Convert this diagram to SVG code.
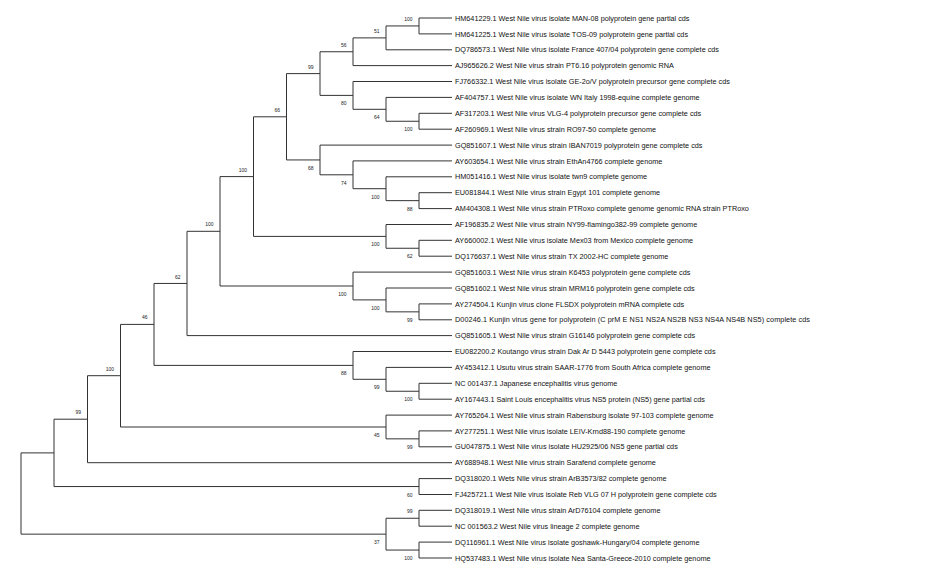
<svg xmlns="http://www.w3.org/2000/svg" width="931" height="578" viewBox="0 0 931 578">
<style>
.e{fill:none;stroke:#333;stroke-width:1}
.t{font-family:"Liberation Sans",Arial,Helvetica,sans-serif;font-size:7.27px;fill:#111}
.b{font-family:"Liberation Sans",Arial,Helvetica,sans-serif;font-size:5px;fill:#222;text-anchor:end}
</style>
<rect width="931" height="578" fill="#fff"/>
<g id="connectors">
<path class="e" d="M452 18 H419 V33.9 H452"/>
<path class="e" d="M419 25.95 H386 V49.8 H452"/>
<path class="e" d="M386 37.9 H353 V65.6 H452"/>
<path class="e" d="M452 113.3 H419 V129.2 H452"/>
<path class="e" d="M452 97.4 H386 V121.25 H419"/>
<path class="e" d="M452 81.5 H353 V109.3 H386"/>
<path class="e" d="M353 51.75 H320 V95.4 H353"/>
<path class="e" d="M452 192.7 H419 V208.6 H452"/>
<path class="e" d="M452 176.8 H386 V200.65 H419"/>
<path class="e" d="M452 160.9 H353 V188.7 H386"/>
<path class="e" d="M452 145.1 H320 V174.8 H353"/>
<path class="e" d="M320 73.6 H286.5 V159.95 H320"/>
<path class="e" d="M452 240.3 H419 V256.2 H452"/>
<path class="e" d="M452 224.5 H386 V248.25 H419"/>
<path class="e" d="M286.5 116.8 H253.5 V236.4 H386"/>
<path class="e" d="M452 303.9 H419 V319.8 H452"/>
<path class="e" d="M452 288 H386 V311.85 H419"/>
<path class="e" d="M452 272.1 H353 V299.9 H386"/>
<path class="e" d="M253.5 176.6 H220 V286 H353"/>
<path class="e" d="M220 231.3 H187 V335.6 H452"/>
<path class="e" d="M452 383.3 H419 V399.2 H452"/>
<path class="e" d="M452 367.4 H386 V391.25 H419"/>
<path class="e" d="M452 351.5 H353 V379.3 H386"/>
<path class="e" d="M187 283.45 H154 V365.4 H353"/>
<path class="e" d="M452 430.9 H419 V446.8 H452"/>
<path class="e" d="M452 415.1 H386 V438.85 H419"/>
<path class="e" d="M154 324.4 H120.5 V427 H386"/>
<path class="e" d="M120.5 375.7 H87.5 V462.7 H452"/>
<path class="e" d="M452 478.6 H419 V494.5 H452"/>
<path class="e" d="M87.5 419.2 H54 V486.55 H419"/>
<path class="e" d="M452 510.3 H419 V526.2 H452"/>
<path class="e" d="M452 542.1 H419 V558 H452"/>
<path class="e" d="M419 518.25 H386 V550.05 H419"/>
<path class="e" d="M54 452.9 H21 V534.15 H386"/>
</g>
<g id="supports">
<g id="n-A"><text class="b" x="412.5" y="21">100</text></g>
<g id="n-B"><text class="b" x="379.5" y="32.9">51</text></g>
<g id="n-C"><text class="b" x="346.5" y="46.7">56</text></g>
<g id="n-D"><text class="b" x="412.5" y="131.2">100</text></g>
<g id="n-E"><text class="b" x="379.5" y="119.3">64</text></g>
<g id="n-F"><text class="b" x="346.5" y="105.4">80</text></g>
<g id="n-G"><text class="b" x="313.5" y="68.6">99</text></g>
<g id="n-H"><text class="b" x="412.5" y="210.6">88</text></g>
<g id="n-I"><text class="b" x="379.5" y="198.7">100</text></g>
<g id="n-J"><text class="b" x="346.5" y="184.8">74</text></g>
<g id="n-K"><text class="b" x="313.5" y="169.9">68</text></g>
<g id="n-L"><text class="b" x="280" y="111.8">66</text></g>
<g id="n-M"><text class="b" x="412.5" y="258.2">62</text></g>
<g id="n-N"><text class="b" x="379.5" y="246.4">100</text></g>
<g id="n-O"><text class="b" x="247" y="171.6">100</text></g>
<g id="n-P"><text class="b" x="412.5" y="321.8">99</text></g>
<g id="n-Q"><text class="b" x="379.5" y="309.9">100</text></g>
<g id="n-R"><text class="b" x="346.5" y="296">100</text></g>
<g id="n-S"><text class="b" x="213.5" y="226.3">100</text></g>
<g id="n-T"><text class="b" x="180.5" y="278.5">62</text></g>
<g id="n-U"><text class="b" x="412.5" y="401.2">100</text></g>
<g id="n-V"><text class="b" x="379.5" y="389.3">99</text></g>
<g id="n-W"><text class="b" x="346.5" y="375.4">88</text></g>
<g id="n-X"><text class="b" x="147.5" y="319.4">46</text></g>
<g id="n-Y"><text class="b" x="412.5" y="448.8">99</text></g>
<g id="n-Z"><text class="b" x="379.5" y="437">45</text></g>
<g id="n-AA"><text class="b" x="114" y="370.7">100</text></g>
<g id="n-AB"><text class="b" x="81" y="414.2">99</text></g>
<g id="n-AC"><text class="b" x="412.5" y="496.5">60</text></g>
<g id="n-AE"><text class="b" x="412.5" y="513.2">99</text></g>
<g id="n-AF"><text class="b" x="412.5" y="560">100</text></g>
<g id="n-AG"><text class="b" x="379.5" y="544.1">37</text></g>
</g>
<g id="leaves">
<g id="leaf-0"><text class="t" x="455" y="20.6">HM641229.1 West Nile virus isolate MAN-08 polyprotein gene partial cds</text></g>
<g id="leaf-1"><text class="t" x="455" y="36.5">HM641225.1 West Nile virus isolate TOS-09 polyprotein gene partial cds</text></g>
<g id="leaf-2"><text class="t" x="455" y="52.4">DQ786573.1 West Nile virus isolate France 407/04 polyprotein gene complete cds</text></g>
<g id="leaf-3"><text class="t" x="455" y="68.2">AJ965626.2 West Nile virus strain PT6.16 polyprotein genomic RNA</text></g>
<g id="leaf-4"><text class="t" x="455" y="84.1">FJ766332.1 West Nile virus isolate GE-2o/V polyprotein precursor gene complete cds</text></g>
<g id="leaf-5"><text class="t" x="455" y="100">AF404757.1 West Nile virus isolate WN Italy 1998-equine complete genome</text></g>
<g id="leaf-6"><text class="t" x="455" y="115.9">AF317203.1 West Nile virus VLG-4 polyprotein precursor gene complete cds</text></g>
<g id="leaf-7"><text class="t" x="455" y="131.8">AF260969.1 West Nile virus strain RO97-50 complete genome</text></g>
<g id="leaf-8"><text class="t" x="455" y="147.7">GQ851607.1 West Nile virus strain IBAN7019 polyprotein gene complete cds</text></g>
<g id="leaf-9"><text class="t" x="455" y="163.5">AY603654.1 West Nile virus strain EthAn4766 complete genome</text></g>
<g id="leaf-10"><text class="t" x="455" y="179.4">HM051416.1 West Nile virus isolate twn9 complete genome</text></g>
<g id="leaf-11"><text class="t" x="455" y="195.3">EU081844.1 West Nile virus strain Egypt 101 complete genome</text></g>
<g id="leaf-12"><text class="t" x="455" y="211.2">AM404308.1 West Nile virus strain PTRoxo complete genome genomic RNA strain PTRoxo</text></g>
<g id="leaf-13"><text class="t" x="455" y="227.1">AF196835.2 West Nile virus strain NY99-flamingo382-99 complete genome</text></g>
<g id="leaf-14"><text class="t" x="455" y="242.9">AY660002.1 West Nile virus isolate Mex03 from Mexico complete genome</text></g>
<g id="leaf-15"><text class="t" x="455" y="258.8">DQ176637.1 West Nile virus strain TX 2002-HC complete genome</text></g>
<g id="leaf-16"><text class="t" x="455" y="274.7">GQ851603.1 West Nile virus strain K6453 polyprotein gene complete cds</text></g>
<g id="leaf-17"><text class="t" x="455" y="290.6">GQ851602.1 West Nile virus strain MRM16 polyprotein gene complete cds</text></g>
<g id="leaf-18"><text class="t" x="455" y="306.5">AY274504.1 Kunjin virus clone FLSDX polyprotein mRNA complete cds</text></g>
<g id="leaf-19"><text class="t" x="455" y="322.4" textLength="355" lengthAdjust="spacing">D00246.1 Kunjin virus gene for polyprotein (C prM E NS1 NS2A NS2B NS3 NS4A NS4B NS5) complete cds</text></g>
<g id="leaf-20"><text class="t" x="455" y="338.2">GQ851605.1 West Nile virus strain G16146 polyprotein gene complete cds</text></g>
<g id="leaf-21"><text class="t" x="455" y="354.1">EU082200.2 Koutango virus strain Dak Ar D 5443 polyprotein gene complete cds</text></g>
<g id="leaf-22"><text class="t" x="455" y="370">AY453412.1 Usutu virus strain SAAR-1776 from South Africa complete genome</text></g>
<g id="leaf-23"><text class="t" x="455" y="385.9">NC 001437.1 Japanese encephalitis virus genome</text></g>
<g id="leaf-24"><text class="t" x="455" y="401.8">AY167443.1 Saint Louis encephalitis virus NS5 protein (NS5) gene partial cds</text></g>
<g id="leaf-25"><text class="t" x="455" y="417.7">AY765264.1 West Nile virus strain Rabensburg isolate 97-103 complete genome</text></g>
<g id="leaf-26"><text class="t" x="455" y="433.5">AY277251.1 West Nile virus isolate LEIV-Krnd88-190 complete genome</text></g>
<g id="leaf-27"><text class="t" x="455" y="449.4">GU047875.1 West Nile virus isolate HU2925/06 NS5 gene partial cds</text></g>
<g id="leaf-28"><text class="t" x="455" y="465.3">AY688948.1 West Nile virus strain Sarafend complete genome</text></g>
<g id="leaf-29"><text class="t" x="455" y="481.2">DQ318020.1 Wets NIle virus strain ArB3573/82 complete genome</text></g>
<g id="leaf-30"><text class="t" x="455" y="497.1">FJ425721.1 West Nile virus isolate Reb VLG 07 H polyprotein gene complete cds</text></g>
<g id="leaf-31"><text class="t" x="455" y="512.9">DQ318019.1 West Nile virus strain ArD76104 complete genome</text></g>
<g id="leaf-32"><text class="t" x="455" y="528.8">NC 001563.2 West Nile virus lineage 2 complete genome</text></g>
<g id="leaf-33"><text class="t" x="455" y="544.7">DQ116961.1 West Nile virus isolate goshawk-Hungary/04 complete genome</text></g>
<g id="leaf-34"><text class="t" x="455" y="560.6">HQ537483.1 West Nile virus isolate Nea Santa-Greece-2010 complete genome</text></g>
</g>
</svg>
